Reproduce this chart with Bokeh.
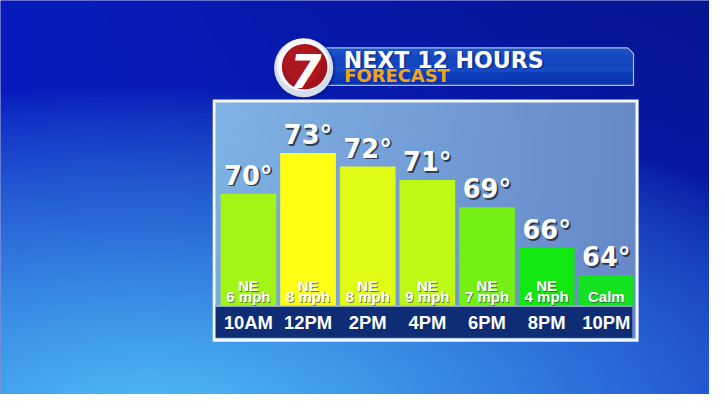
import numpy as np
from bokeh.plotting import figure
from bokeh.models import Range1d
from bokeh.core.properties import value
from bokeh.embed import file_html
from bokeh.resources import INLINE

# ---------------- data ----------------
hours = ["10AM", "12PM", "2PM", "4PM", "6PM", "8PM", "10PM"]
temps = [70, 73, 72, 71, 69, 66, 64]
wind_dir = ["NE", "NE", "NE", "NE", "NE", "NE", ""]
wind_speed = ["6 mph", "8 mph", "8 mph", "9 mph", "7 mph", "4 mph", "Calm"]
bar_colors = ["#a2f514", "#ffff14", "#e0fb14", "#bdf914", "#74f014", "#12e70f", "#14e21e"]
title = "NEXT 12 HOURS"
subtitle = "FORECAST"
logo_text = "7"
base_temp = 61.74

W, H = 709, 394
KX, KY = W / 725.0, H / 410.0
KF = (KX + KY) / 2.0
BASE_FIX = 0.36  # baseline correction, fraction of font size


def X(sx):
    return sx * KX


def Y(sy):
    return H - sy * KY


def to_rgba(rgb):
    h, w, _ = rgb.shape
    img = np.empty((h, w), dtype=np.uint32)
    v = img.view(dtype=np.uint8).reshape((h, w, 4))
    v[..., :3] = np.clip(rgb, 0, 255).astype(np.uint8)
    v[..., 3] = 255
    return img


p = figure(width=W, height=H, x_range=Range1d(0, W), y_range=Range1d(0, H),
           output_backend="svg", toolbar_location=None, min_border=0,
           x_axis_type=None, y_axis_type=None, outline_line_color=None)
p.grid.visible = False
p.background_fill_color = "#0a1eb8"
p.border_fill_color = "#0a1eb8"
p.extra_x_ranges = {"slot": Range1d(-253.5 / 61.0, (725 - 253.5) / 61.0)}
p.extra_y_ranges = {"temp": Range1d(70 - 209 / 14.1, 70 + 201 / 14.1)}


def txt(x, y, text, font, size, color, style="bold", align="center", alpha=1.0,
        dx=0.0, dy=0.0, **kw):
    fs = size * KF
    p.text(x=x, y=y, text=text, text_font=value(font), text_font_style=style,
           text_font_size=f"{fs:.1f}px", text_color=color, text_alpha=alpha,
           text_align=align, text_baseline="alphabetic",
           x_offset=dx * KX, y_offset=dy * KY - BASE_FIX * fs, **kw)


# ---------------- background gradient ----------------
rows = np.arange(H)
cols = np.arange(W)
SY = ((H - (rows + 0.5)) / KY)[:, None] * np.ones((1, W))
SX = ((cols + 0.5) / KX)[None, :] * np.ones((H, 1))
d = np.sqrt(((SX - 150) / 820.0) ** 2 + ((SY - 430) / 340.0) ** 2)
w = np.clip(1 - d, 0, 1) ** 0.8
dark = np.array([8, 28, 190], dtype=float)
light = np.array([78, 188, 246], dtype=float)
dim = (1 - 0.25 * (SX / 725.0) * (1 - SY / 410.0))[..., None]
bg = dark[None, None, :] * dim * (1 - w[..., None]) + light[None, None, :] * w[..., None]
p.image_rgba(image=[to_rgba(bg)], x=0, y=0, dw=W, dh=H)

# ---------------- banner ----------------
top_c = np.array([34, 98, 212], dtype=float)
bot_c = np.array([12, 58, 182], dtype=float)
b_top, b_bot, b_left, b_right, cham = 49.3, 88.3, 333.0, 647.3, 6.0
strip_l, strip_r, strip_t, strip_b, strip_c = [], [], [], [], []
sy = b_top
while sy < b_bot:
    sy2 = min(sy + 1.0, b_bot)
    t = (sy - b_top) / (b_bot - b_top)
    c = top_c * (1 - t) + bot_c * t
    rx = b_right if sy >= b_top + cham else (b_right - cham) + (sy - b_top)
    strip_l.append(X(b_left)); strip_r.append(X(rx))
    strip_t.append(Y(sy)); strip_b.append(Y(sy2))
    strip_c.append("#%02x%02x%02x" % tuple(int(v) for v in c))
    sy = sy2
p.quad(left=strip_l, right=strip_r, top=strip_t, bottom=strip_b,
       fill_color=strip_c, line_color=None)
p.patch(x=[X(b_left), X(b_right - cham), X(b_right), X(b_right), X(b_left)],
        y=[Y(b_top), Y(b_top), Y(b_top + cham), Y(b_bot), Y(b_bot)],
        fill_color=None, line_color="#aebfe4", line_width=1.2)

# ---------------- logo ----------------
p.circle(x=[X(311)], y=[Y(71)], radius=32 * KF, fill_color="#06126a", fill_alpha=0.35, line_color=None)
p.circle(x=[X(310)], y=[Y(70)], radius=30.5 * KF, fill_color="#d6deee", line_color=None)
p.circle(x=[X(309.5)], y=[Y(67)], radius=27 * KF, fill_color="#f6f8fc", line_color=None)
p.circle(x=[X(311)], y=[Y(69)], radius=23.5 * KF, fill_color="#a3121c", line_color=None)
p.circle(x=[X(309)], y=[Y(66)], radius=19 * KF, fill_color="#b61a22", fill_alpha=0.6, line_color=None)
txt([X(312)], [Y(90)], [logo_text], "DejaVu Sans", 47, "white", style="bold italic")

# header text
txt([X(352)], [Y(70)], [title], "DejaVu Sans", 22.8, "#0a1a60", align="left", alpha=0.5, dx=1, dy=1)
txt([X(351)], [Y(70)], [title], "DejaVu Sans", 22.8, "white", align="left")
txt([X(351.5)], [Y(85)], [subtitle], "DejaVu Sans", 18.5, "#eea519", align="left")

# ---------------- panel ----------------
p.quad(left=[X(217)], right=[X(652.5)], top=[Y(103)], bottom=[Y(355)],
       fill_color="#f4f7fb", line_color=None)
pl, pr, pt, pb = 220, 649, 106, 352
c0, c1 = int(round(X(pl))), int(round(X(pr)))
r0, r1 = int(round(Y(pb))), int(round(Y(pt)))
pw, ph = c1 - c0, r1 - r0
PSX = ((c0 + np.arange(pw) + 0.5) / KX)[None, :] * np.ones((ph, 1))
PSY = ((H - (r0 + np.arange(ph) + 0.5)) / KY)[:, None] * np.ones((1, pw))
hh = ((PSX - pl) / (pr - pl))[..., None]
vv = ((PSY - pt) / (pb - pt))[..., None]
left_c = np.array([122, 173, 223], dtype=float)
right_c = np.array([103, 137, 200], dtype=float)
panel = left_c[None, None, :] * (1 - hh) + right_c[None, None, :] * hh
panel = panel + 6 * (1 - vv) * (1 - hh)
p.image_rgba(image=[to_rgba(panel)], x=c0, y=r0, dw=pw, dh=ph)

# navy band
p.quad(left=[X(220)], right=[X(646)], top=[Y(318)], bottom=[Y(351)],
       fill_color="#0e2d74", line_color=None)
p.segment(x0=[X(220)], x1=[X(646)], y0=[Y(318)], y1=[Y(318)],
          line_color="#b8c8e0", line_width=1.2)

# ---------------- bars ----------------
idx = list(range(len(hours)))
p.vbar(x=idx, width=0.934, top=temps, bottom=base_temp, fill_color=bar_colors,
       line_color=None, x_range_name="slot", y_range_name="temp")

temp_labels = [f"{t}\u00b0" for t in temps]
for dx, dy, col, a in [(1.8, 1.8, "#1a2030", 0.75), (0.8, 0.8, "#30384a", 0.8)]:
    txt(idx, temps, temp_labels, "DejaVu Sans", 26.5, col, alpha=a, dx=dx, dy=-9 + dy,
        x_range_name="slot", y_range_name="temp")
txt(idx, temps, temp_labels, "DejaVu Sans", 26.5, "white", dy=-9,
    x_range_name="slot", y_range_name="temp")

# wind labels
for labels, sy0 in [(wind_dir, 302.5), (wind_speed, 313.8)]:
    ys = [Y(sy0)] * len(idx)
    txt(idx, ys, labels, "Liberation Sans", 15.5, "#304050", alpha=0.7, dx=0.8, dy=0.8,
        x_range_name="slot")
    txt(idx, ys, labels, "Liberation Sans", 15.5, "white", x_range_name="slot")

# time labels
txt(idx, [Y(341.8)] * len(idx), hours, "Liberation Sans", 19, "white", x_range_name="slot")

open("out.html", "w").write(file_html(p, INLINE))
